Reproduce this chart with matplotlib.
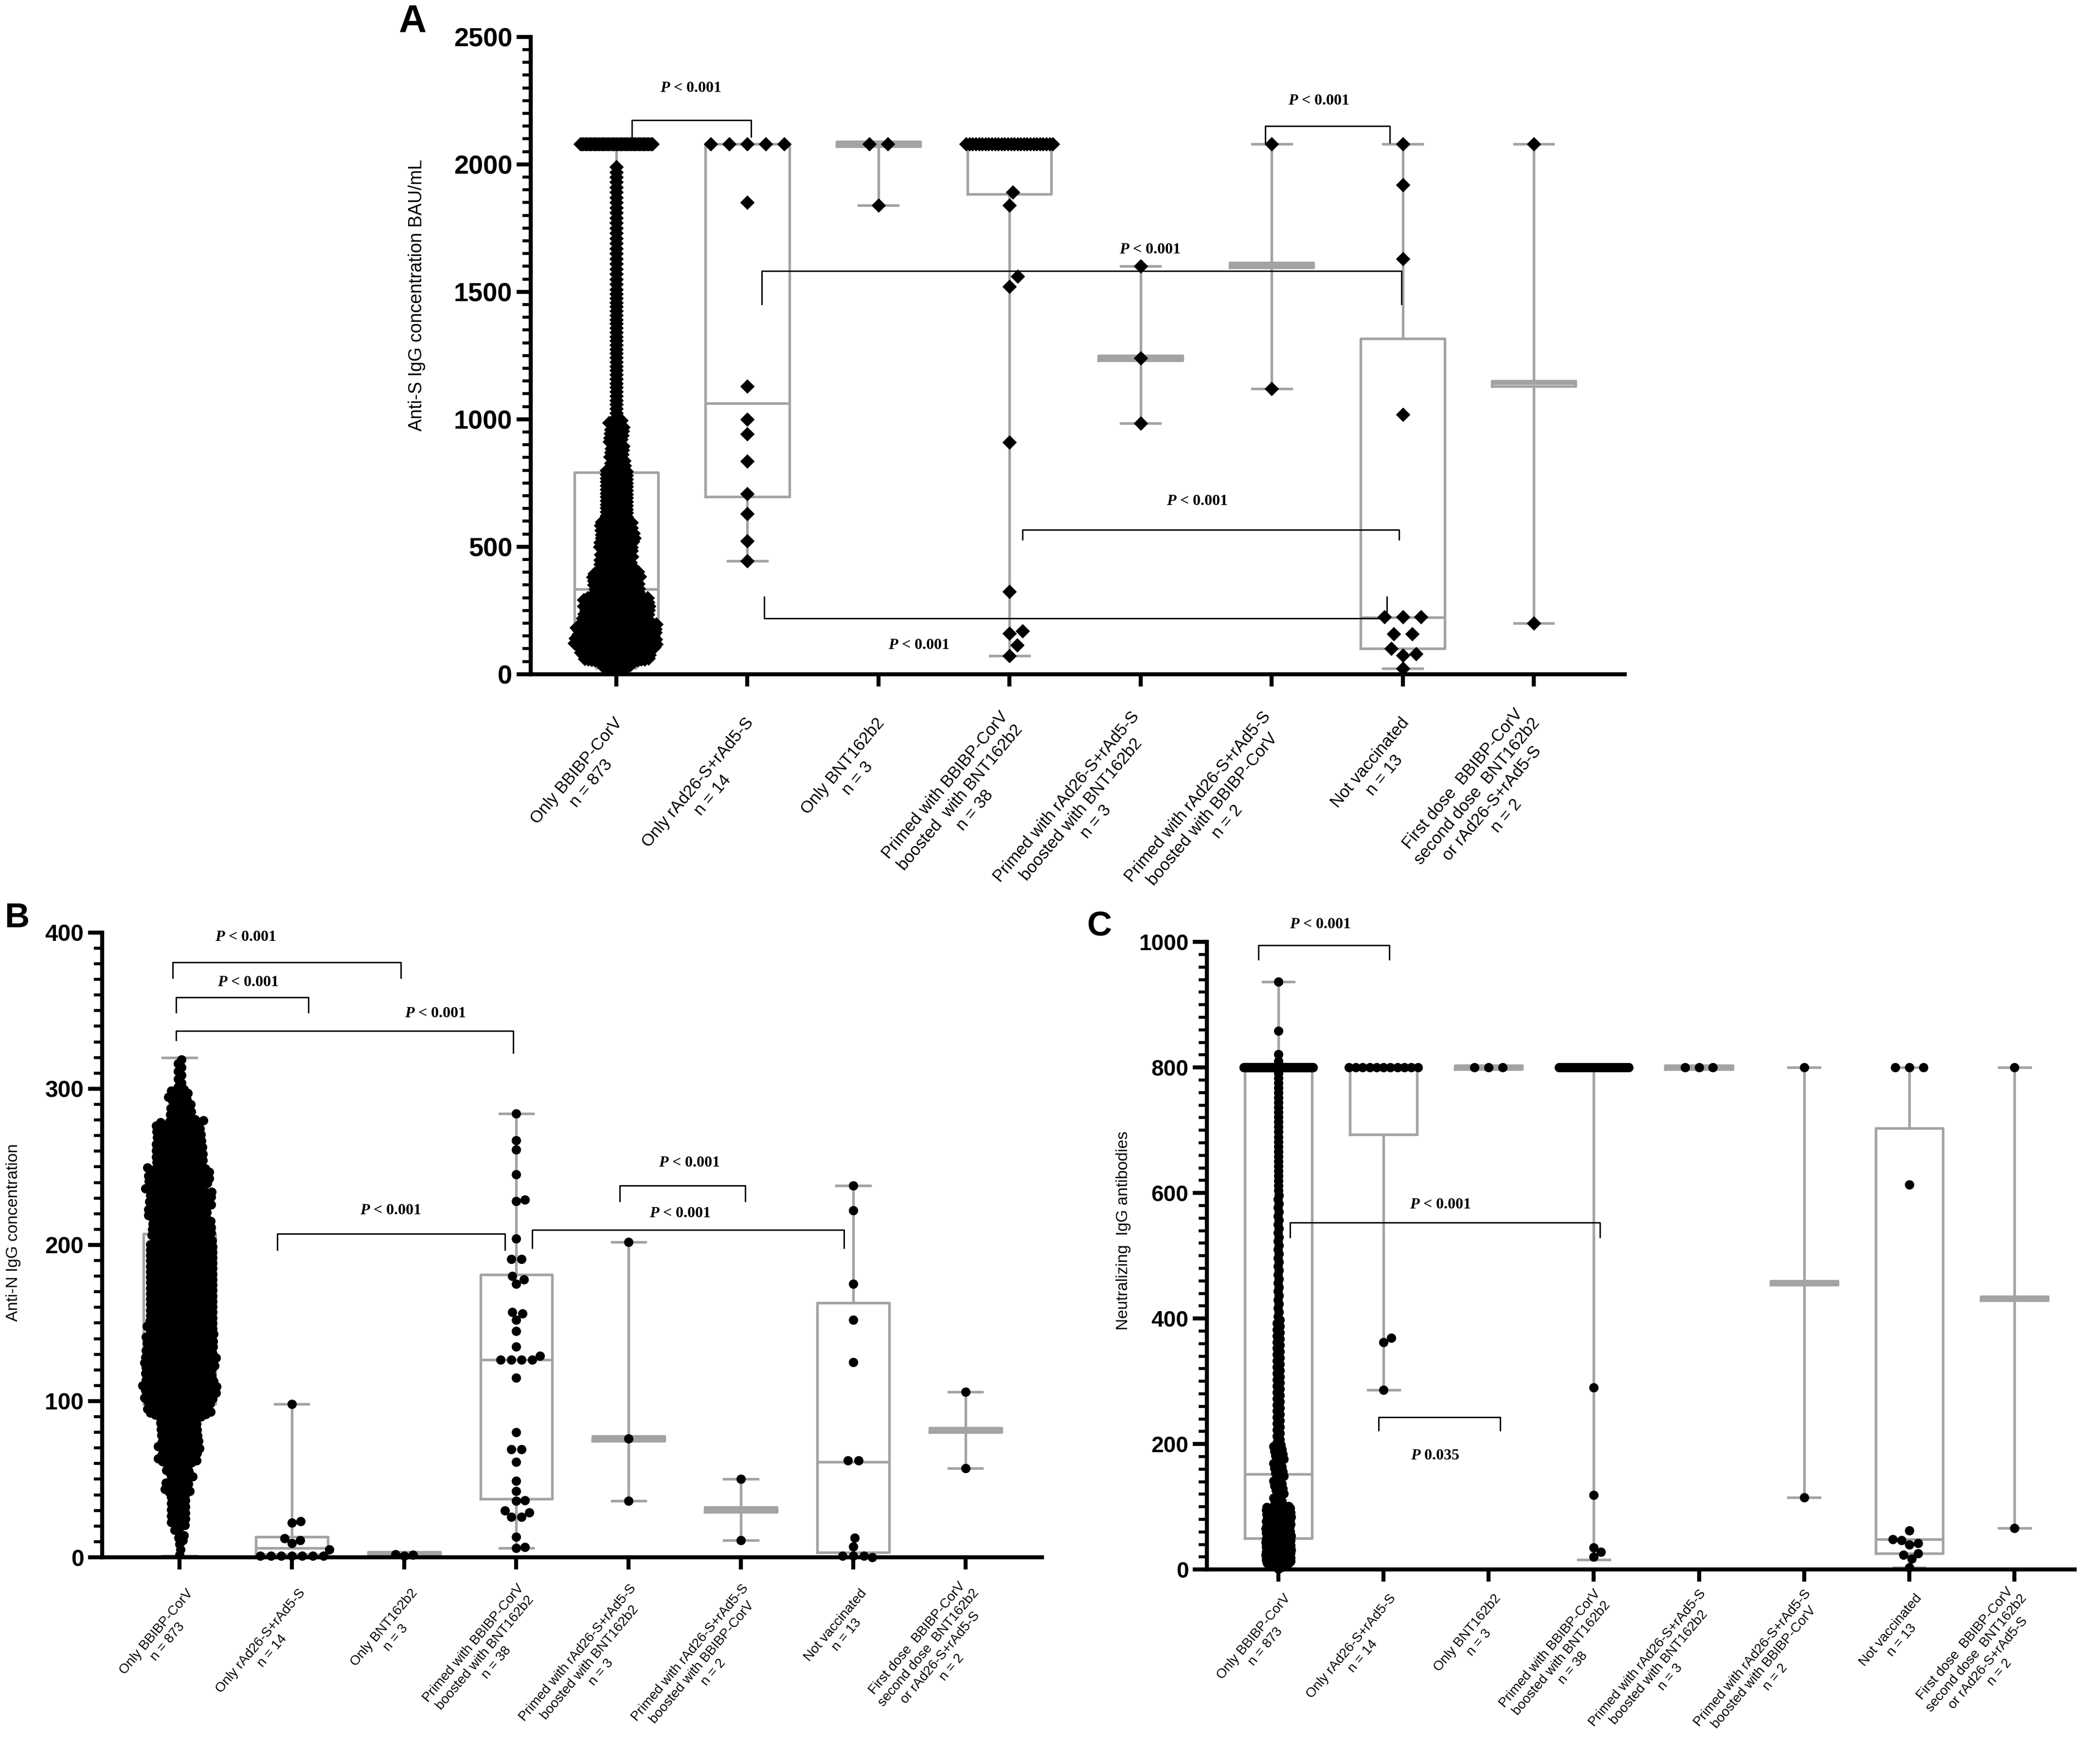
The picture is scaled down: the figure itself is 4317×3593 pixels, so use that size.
import numpy as np
import matplotlib
matplotlib.use('Agg')
import matplotlib.pyplot as plt
from matplotlib.ticker import MultipleLocator
import matplotlib.transforms as mtransforms

plt.rcParams['font.family'] = ['Liberation Sans', 'DejaVu Sans']
plt.rcParams['mathtext.fontset'] = 'custom'
plt.rcParams['mathtext.it'] = 'Liberation Serif:italic:bold'
plt.rcParams['mathtext.rm'] = 'Liberation Serif:bold'

GRAY = '#a3a3a3'

# ---------------- labels ----------------
labels_A = ["Only BBIBP-CorV\nn = 873", "Only rAd26-S+rAd5-S\nn = 14", "Only BNT162b2\nn = 3",
            "Primed with BBIBP-CorV\nboosted  with BNT162b2\nn = 38",
            "Primed with rAd26-S+rAd5-S\nboosted with BNT162b2\nn = 3",
            "Primed with rAd26-S+rAd5-S\nboosted with BBIBP-CorV\nn = 2",
            "Not vaccinated\nn = 13",
            "First dose  BBIBP-CorV\nsecond dose  BNT162b2\nor rAd26-S+rAd5-S\nn = 2"]
labels_BC = [l.replace("boosted  with", "boosted with") for l in labels_A]

# ---------------- panel A : anti-S IgG (BAU/mL) ----------------
a_bbibp_bins = [(20, 50, 18), (50, 100, 70), (100, 200, 165), (200, 300, 135), (300, 400, 95),
                (400, 600, 133), (600, 800, 95), (800, 1000, 62), (1000, 1500, 30),
                (1500, 2000, 25), (2080, 2080, 45)]
a_pts = [None,
         [2080] * 5 + [1850, 1130, 1000, 942, 836, 708, 630, 523, 445],
         [2080, 2080, 1840],
         [2080] * 28 + [1890, 1840, 1560, 1520, 910, 325, 170, 160, 114, 72],
         [1600, 1240, 985],
         [2080, 1120],
         [2080, 1920, 1630, 1018, 224, 224, 224, 158, 158, 100, 79, 75, 23],
         [2080, 200]]
a_q1 = [173, 697, 2070, 1884, 1230, 1595, 100, 1130]
a_med = [333, 1063, 2080, 2080, 1240, 1605, 222, 1140]
a_q3 = [792, 2080, 2090, 2080, 1250, 1615, 1317, 1150]
a_lo = [25, 445, 1840, 72, 985, 1120, 23, 200]
a_hi = [2080, 2080, 2080, 2080, 1600, 2080, 2080, 2080]

# ---------------- panel B : anti-N IgG ----------------
b_bbibp_bins = [(0, 10, 3), (10, 20, 6), (20, 40, 20), (40, 60, 30), (60, 90, 70), (90, 100, 38),
                (100, 150, 205), (150, 200, 200), (200, 250, 180), (250, 280, 88), (280, 300, 25),
                (300, 320, 8)]
b_pts = [None,
         [98, 23, 22, 12, 11, 9, 5, 1, 1, 1, 1, 1, 1, 1],
         [1, 1.5, 2],
         [284, 267, 261, 245, 229, 228, 204, 191, 191, 180, 178, 175, 157, 156, 152, 145, 135, 129,
          126.5, 126.5, 126.5, 126.5, 115, 80, 69, 69, 61, 49, 42.5, 36.5, 36, 30, 28.7, 26, 26,
          13, 6.4, 6],
         [202, 76, 36],
         [50, 11],
         [238, 222, 175, 152, 125, 62, 62, 12.5, 7, 1, 1, 1, 0],
         [106, 57]]
b_q1 = [98, 2, 1, 37.5, 74.5, 29, 3, 80]
b_med = [150, 6, 2, 126.5, 76, 30.5, 61, 81.5]
b_q3 = [207, 13, 3.5, 181, 77.5, 32, 163, 83]
b_lo = [1, 1, 1, 6, 36, 11, 0, 57]
b_hi = [320, 98, 2, 284, 202, 50, 238, 106]

# ---------------- panel C : neutralizing IgG ----------------
c_bbibp_bins = [(0, 10, 4), (10, 50, 280), (50, 100, 150), (100, 200, 40), (200, 400, 40),
                (400, 600, 30), (600, 795, 25), (800, 800, 300), (810, 810, 1), (821, 821, 1),
                (858, 858, 1), (937, 937, 1)]
c_pts = [None,
         [800] * 11 + [369, 362, 286],
         [800, 800, 800],
         [800] * 33 + [290, 119, 35, 28, 20],
         [800, 800, 800],
         [800, 115],
         [800, 800, 800, 613, 62, 48.5, 47, 42, 40, 26, 23, 17, 3.5],
         [800, 66]]
c_q1 = [50, 693, 797, 796, 797, 454, 26, 429]
c_med = [152, 800, 800, 800, 800, 457, 48, 432]
c_q3 = [800, 800, 803, 800, 803, 460, 703, 435]
c_lo = [2, 286, 800, 16, 800, 115, 3.5, 66]
c_hi = [937, 800, 800, 800, 800, 800, 800, 800]

# brackets: x1, x2, y_bar, y_end1, y_end2, text_x, text_y, text
A_br = [(0.12, 1.03, 2174, 2109, 2109, 0.57, 2298, '$P$ < 0.001'),
        (4.95, 5.90, 2150, 2086, 2086, 5.36, 2248, '$P$ < 0.001'),
        (1.11, 5.99, 1581, 1452, 1452, 4.07, 1664, '$P$ < 0.001'),
        (3.10, 5.97, 567, 528, 528, 4.43, 678, '$P$ < 0.001'),
        (1.13, 5.88, 220, 303, 303, 2.31, 114, '$P$ < 0.001')]
B_br = [(-0.06, 1.97, 381, 371, 371, 0.59, 397, '$P$ < 0.001'),
        (-0.03, 1.15, 358.5, 349, 349, 0.61, 368, '$P$ < 0.001'),
        (-0.03, 2.97, 337, 331, 323, 2.28, 348, '$P$ < 0.001'),
        (0.87, 2.90, 207, 197, 197, 1.88, 222, '$P$ < 0.001'),
        (3.92, 5.04, 238, 228, 228, 4.54, 252.6, '$P$ < 0.001'),
        (3.14, 5.92, 209.5, 198, 198, 4.46, 220, '$P$ < 0.001')]
C_br = [(-0.19, 1.055, 995, 972, 972, 0.40, 1028, '$P$ < 0.001'),
        (0.11, 3.06, 553, 530, 530, 1.54, 581, '$P$ < 0.001'),
        (0.955, 2.11, 243, 222, 222, 1.49, 181, '$P$ 0.035')]


def expand_bins(bins):
    out = []
    for lo, hi, c in bins:
        if lo == hi:
            out += [lo] * c
        else:
            step = (hi - lo) / c
            out += list(lo + step * (np.arange(c) + 0.5))
    return out


def swarm_x(ax, vals, ms_px, d_fac, cap, tie_fac, tie_cap):
    vals = np.asarray(vals, dtype=float)
    n = len(vals)
    o = ax.transData.transform([(0, 0), (1, 1)])
    sx, sy = o[1] - o[0]
    xs = np.zeros(n)
    fixed = np.zeros(n, bool)
    uniq, counts = np.unique(vals, return_counts=True)
    for u, c in zip(uniq, counts):
        if c > 1:
            idx = np.where(vals == u)[0]
            step = min(tie_fac * ms_px, 2 * tie_cap * sx / (c - 1))
            xs[idx] = (np.arange(c) - (c - 1) / 2) * step
            fixed[idx] = True
    ys = vals * sy
    px = list(xs[fixed])
    py = list(ys[fixed])
    d = d_fac * ms_px
    lim = cap * sx
    k = 0
    for i in np.argsort(vals, kind='stable'):
        if fixed[i]:
            continue
        y = ys[i]
        PX = np.array(px)
        PY = np.array(py)
        ok = None
        if len(PX):
            m = np.abs(PY - y) < d
            nx, ny = PX[m], PY[m]
        else:
            nx = ny = np.zeros(0)
        if len(nx) == 0:
            ok = 0.0
        else:
            dd = np.sqrt(np.maximum(d ** 2 - (ny - y) ** 2, 0))
            cands = np.concatenate([[0.0], nx + dd, nx - dd])
            cands = cands[np.abs(cands) <= lim]
            cands = cands[np.argsort(np.abs(cands), kind='stable')]
            if len(cands):
                dist = np.hypot(cands[:, None] - nx[None, :], y - ny[None, :])
                good = np.all(dist >= d - 1e-6, axis=1)
                if good.any():
                    ok = cands[np.argmax(good)]
        if ok is None:
            k += 1
            ok = lim * (2 * ((k * 0.6180339887) % 1.0) - 1)
        xs[i] = ok
        px.append(ok)
        py.append(y)
    return xs / sx


def panel(ax, pts, big_bins, q1, med, q3, lo, hi, ylim, major, minor, ylabel, yfs, marker, ms,
          ms_px, tie_fac, big_par, tickfs, labels, labfs, laboff, labdx, brackets, xlim):
    ax.set_xlim(*xlim)
    ax.set_ylim(0, ylim)
    stats = [dict(q1=q1[i], med=med[i], q3=q3[i], whislo=lo[i], whishi=hi[i], fliers=[])
             for i in range(8)]
    ax.bxp(stats, positions=range(8), widths=0.64, capwidths=0.3, showfliers=False,
           boxprops=dict(color=GRAY, lw=1.3), whiskerprops=dict(color=GRAY, lw=1.3),
           capprops=dict(color=GRAY, lw=1.3), medianprops=dict(color=GRAY, lw=1.3),
           manage_ticks=False, zorder=2)
    for i in range(8):
        if i == 0:
            vals = expand_bins(big_bins)
            d_fac, cap, tcap = big_par
        else:
            vals = pts[i]
            d_fac, cap, tcap = 1.0, 0.35, 0.33
        off = swarm_x(ax, vals, ms_px, d_fac, cap, tie_fac, tcap)
        ax.plot(i + off, vals, ls='none', marker=marker, ms=ms, mfc='black', mec='black',
                mew=0.3, zorder=3, clip_on=False)
    for x1, x2, yb, e1, e2, tx, ty, t in brackets:
        ax.plot([x1, x1, x2, x2], [e1, yb, yb, e2], color='black', lw=0.7, clip_on=False, zorder=4)
        ax.text(tx, ty, t, ha='center', va='center', fontsize=7.7, family='Liberation Serif',
                fontweight='bold', clip_on=False)
    for s in ['top', 'right']:
        ax.spines[s].set_visible(False)
    for s in ['left', 'bottom']:
        ax.spines[s].set_linewidth(2.0)
    ax.yaxis.set_major_locator(MultipleLocator(major))
    ax.yaxis.set_minor_locator(MultipleLocator(minor))
    ax.tick_params(axis='y', which='major', length=7, width=2, labelsize=tickfs, pad=2)
    ax.tick_params(axis='y', which='minor', length=4, width=1.5)
    ax.tick_params(axis='x', which='major', length=6, width=2, labelbottom=False)
    for t in ax.get_yticklabels():
        t.set_fontweight('bold')
    ax.set_xticks(range(8))
    ax.set_ylabel(ylabel, fontsize=yfs)
    trans = mtransforms.blended_transform_factory(ax.transData, ax.transAxes) + \
        mtransforms.ScaledTranslation(0, -laboff / 72, ax.figure.dpi_scale_trans)
    for i, lab in enumerate(labels):
        ax.text(i + labdx, 0, lab, transform=trans, rotation=50, rotation_mode='anchor',
                ha='right', va='center', multialignment='center', fontsize=labfs,
                linespacing=1.25)


fig = plt.figure(figsize=(4317 / 300, 3593 / 300), dpi=300)
axA = fig.add_axes([0.2527, 0.6143, 0.521, 0.3646])
axB = fig.add_axes([0.0486, 0.1091, 0.4475, 0.3574])
axC = fig.add_axes([0.5747, 0.1021, 0.4133, 0.3590])

panel(axA, a_pts, a_bbibp_bins, a_q1, a_med, a_q3, a_lo, a_hi, 2500, 500, 50,
      'Anti-S IgG concentration BAU/mL', 9, 'D', 4.6, 27, 1.4, (0.27, 0.33, 0.275), 13,
      labels_A, 8.3, 25.7, 0.08, A_br, (-0.653, 7.694))
panel(axB, b_pts, b_bbibp_bins, b_q1, b_med, b_q3, b_lo, b_hi, 400, 100, 10,
      'Anti-N IgG concentration', 8, 'o', 4.3, 18, 1.2, (0.6, 0.33, 0.33), 11.5,
      labels_BC, 6.7, 19, 0.15, B_br, (-0.69, 7.68))
panel(axC, c_pts, c_bbibp_bins, c_q1, c_med, c_q3, c_lo, c_hi, 1000, 200, 20,
      'Neutralizing  IgG antibodies', 8, 'o', 4.3, 18, 1.6, (0.5, 0.12, 0.33), 11,
      labels_BC, 6.7, 15.5, 0.15, C_br, (-0.68, 7.574))

axA.yaxis.set_label_coords(-0.096, 0.595)
axB.yaxis.set_label_coords(-0.0864, 0.52)
axC.yaxis.set_label_coords(-0.0874, 0.54)

fig.text(848 / 4317, 1 - 46 / 3593, 'A', fontsize=19, fontweight='bold', ha='center', va='center')
fig.text(35 / 4317, 1 - 1888 / 3593, 'B', fontsize=17, fontweight='bold', ha='center', va='center')
fig.text(2260 / 4317, 1 - 1906 / 3593, 'C', fontsize=17, fontweight='bold', ha='center', va='center')

fig.savefig('out.png', dpi=300)
